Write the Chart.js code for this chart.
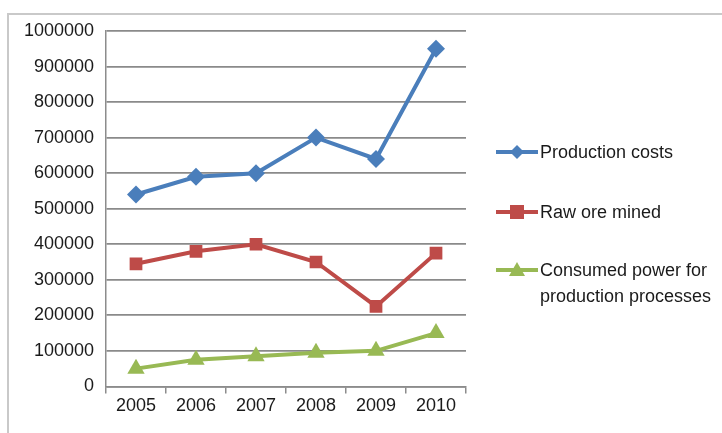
<!DOCTYPE html>
<html>
<head>
<meta charset="utf-8">
<script src="https://cdn.jsdelivr.net/npm/chart.js@4.4.0/dist/chart.umd.min.js"></script>
<style>
  html, body { margin: 0; padding: 0; background: #fff; }
  #wrap { position: relative; width: 722px; height: 433px; overflow: hidden; }
  #frame { position: absolute; left: 7px; top: 13px; width: 800px; height: 500px;
    border-left: 2px solid #c9c9c9; border-top: 2px solid #c9c9c9; }
  #chart { position: absolute; left: 0; top: 0; }
  #legend { position: absolute; left: 496px; top: 0; font-family: "Liberation Sans", Arial, sans-serif;
    font-size: 18px; color: #1a1a1a; }
  .item { position: absolute; left: 0; white-space: nowrap; }
  .item svg { position: absolute; left: 0; }
  .item span { position: absolute; left: 44px; line-height: 26px; }
</style>
</head>
<body>
<div id="wrap">
  <div id="frame"></div>
  <canvas id="chart" width="722" height="433"></canvas>
  <div id="legend"></div>
</div>
<script>
//chart data
const years = ['2005', '2006', '2007', '2008', '2009', '2010'];
const productionCosts = [540000, 590000, 600000, 700000, 640000, 950000];
const rawOreMined = [345000, 380000, 400000, 350000, 225000, 375000];
const consumedPower = [50000, 75000, 85000, 95000, 100000, 150000];
const yTicks = [0, 100000, 200000, 300000, 400000, 500000, 600000, 700000, 800000, 900000, 1000000];

const blue = '#4a7ebb';
const red = '#be4b48';
const green = '#98b954';
const fontFamily = '"Liberation Sans", Arial, sans-serif';

//legend, built as html so the two-line label wraps like the original
const legendItems = [
  {text: ['Production costs'], color: blue, marker: 'diamond', top: 139},
  {text: ['Raw ore mined'], color: red, marker: 'square', top: 199},
  {text: ['Consumed power for', 'production processes'], color: green, marker: 'triangle', top: 257}
];

function markerSvg(kind, color) {
  let shape;
  if (kind === 'diamond') {
    shape = `<polygon points="21,6 28,13 21,20 14,13" fill="${color}"/>`;
  } else if (kind === 'square') {
    shape = `<rect x="14" y="6" width="14" height="14" fill="${color}"/>`;
  } else {
    shape = `<polygon points="21,5 29,19 13,19" fill="${color}"/>`;
  }
  return `<svg width="42" height="26" viewBox="0 0 42 26">
    <line x1="0" y1="13" x2="42" y2="13" stroke="${color}" stroke-width="4"/>${shape}</svg>`;
}

const legend = document.getElementById('legend');
legendItems.forEach(item => {
  let div = document.createElement('div');
  div.className = 'item';
  div.style.top = item.top + 'px';
  div.innerHTML = markerSvg(item.marker, item.color) +
    `<span>${item.text.join('<br>')}</span>`;
  legend.appendChild(div);
});

function lineSet(label, data, color, pointStyle, radius) {
  return {
    label: label,
    data: data,
    borderColor: color,
    backgroundColor: color,
    borderWidth: 4,
    pointStyle: pointStyle,
    pointRadius: radius,
    pointHoverRadius: radius,
    pointBorderWidth: 0,
    tension: 0
  };
}

new Chart(document.getElementById('chart'), {
  type: 'line',
  data: {
    labels: years,
    datasets: [
      lineSet('Production costs', productionCosts, blue, 'rectRot', 9),
      lineSet('Raw ore mined', rawOreMined, red, 'rect', 9),
      lineSet('Consumed power for production processes', consumedPower, green, 'triangle', 10)
    ]
  },
  options: {
    responsive: false,
    animation: false,
    layout: {
      padding: {left: 20, right: 256, top: 31, bottom: 14}
    },
    plugins: {
      legend: {display: false},
      tooltip: {enabled: false}
    },
    scales: {
      x: {
        offset: true,
        grid: {
          offset: true,
          drawOnChartArea: false,
          drawTicks: true,
          tickLength: 7,
          color: '#8c8c8c',
          lineWidth: 1.5
        },
        border: {color: '#8c8c8c', width: 1.5},
        ticks: {
          color: '#1a1a1a',
          padding: 2,
          font: {family: fontFamily, size: 18}
        }
      },
      y: {
        min: 0,
        max: 1000000,
        afterBuildTicks: scale => {
          scale.ticks = yTicks.map(v => ({value: v}));
        },
        afterFit: scale => {
          scale.width = 86;
        },
        grid: {
          drawTicks: false,
          color: '#8a8a8a',
          lineWidth: 1.8
        },
        border: {color: '#8c8c8c', width: 1.5},
        ticks: {
          color: '#1a1a1a',
          padding: 12,
          font: {family: fontFamily, size: 18},
          callback: value => String(value)
        }
      }
    }
  }
});
</script>
</body>
</html>
